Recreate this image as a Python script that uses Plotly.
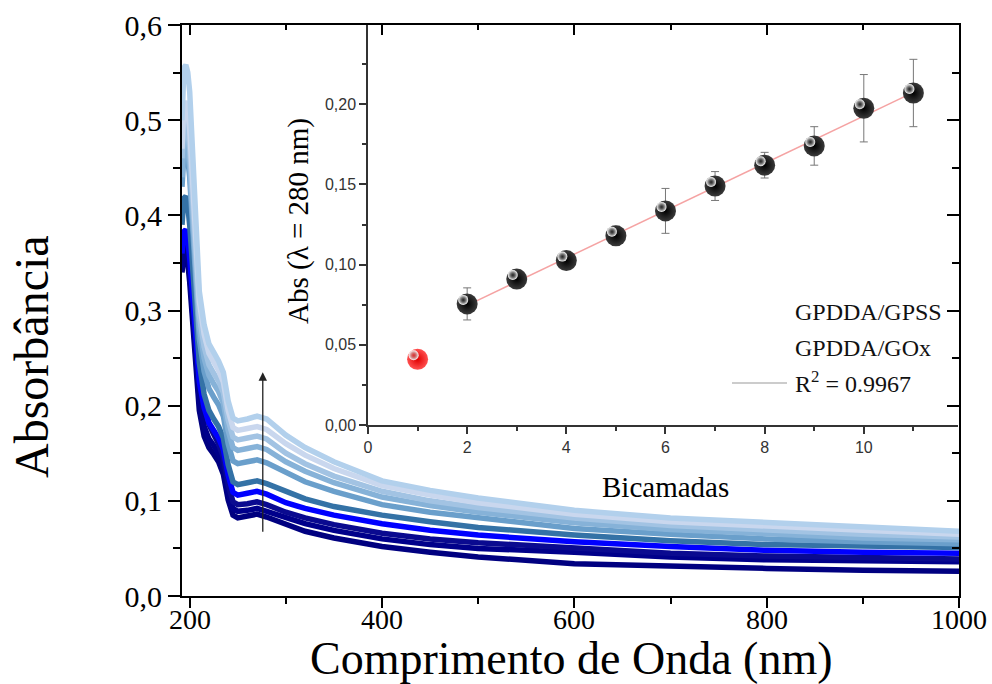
import numpy as np
import plotly.graph_objects as go

# ---------------- data ----------------
wl = [192, 194, 196, 198, 200, 203, 206, 210, 215, 220, 225, 230, 235, 240, 245, 250,
      260, 270, 280, 290, 300, 320, 350, 400, 450, 500, 600, 700, 800, 900, 1000]

abs_1 = [0.34, 0.358, 0.36, 0.35, 0.33, 0.29, 0.245, 0.195, 0.168, 0.156, 0.149, 0.141, 0.128, 0.101, 0.085, 0.082,
         0.084, 0.086, 0.083, 0.079, 0.075, 0.068, 0.061, 0.052, 0.046, 0.041, 0.034, 0.031, 0.029, 0.027, 0.026]
abs_2 = [0.345, 0.368, 0.37, 0.36, 0.34, 0.30, 0.255, 0.205, 0.178, 0.165, 0.158, 0.150, 0.137, 0.109, 0.092, 0.089,
         0.090, 0.092, 0.089, 0.086, 0.082, 0.076, 0.069, 0.060, 0.054, 0.050, 0.046, 0.041, 0.038, 0.037, 0.036]
abs_3 = [0.47, 0.50, 0.505, 0.49, 0.46, 0.40, 0.33, 0.255, 0.205, 0.180, 0.170, 0.160, 0.146, 0.117, 0.099, 0.096,
         0.097, 0.099, 0.096, 0.092, 0.088, 0.082, 0.075, 0.066, 0.060, 0.056, 0.050, 0.045, 0.042, 0.040, 0.039]
abs_4 = [0.36, 0.383, 0.385, 0.375, 0.355, 0.32, 0.275, 0.225, 0.198, 0.182, 0.174, 0.166, 0.154, 0.127, 0.109, 0.106,
         0.108, 0.110, 0.107, 0.103, 0.098, 0.092, 0.085, 0.076, 0.069, 0.064, 0.057, 0.052, 0.048, 0.046, 0.045]
abs_5 = [0.39, 0.418, 0.42, 0.41, 0.39, 0.35, 0.30, 0.245, 0.212, 0.195, 0.186, 0.178, 0.166, 0.138, 0.120, 0.117,
         0.119, 0.121, 0.118, 0.114, 0.109, 0.102, 0.094, 0.085, 0.078, 0.072, 0.064, 0.058, 0.054, 0.052, 0.051]
abs_6 = [0.43, 0.465, 0.47, 0.46, 0.44, 0.39, 0.33, 0.27, 0.236, 0.218, 0.209, 0.201, 0.189, 0.160, 0.142, 0.139,
         0.141, 0.143, 0.140, 0.135, 0.129, 0.120, 0.110, 0.096, 0.088, 0.082, 0.071, 0.065, 0.060, 0.057, 0.055]
abs_7 = [0.44, 0.475, 0.48, 0.47, 0.45, 0.40, 0.345, 0.283, 0.250, 0.232, 0.223, 0.215, 0.203, 0.174, 0.156, 0.153,
         0.155, 0.157, 0.154, 0.148, 0.141, 0.131, 0.119, 0.104, 0.095, 0.088, 0.077, 0.070, 0.065, 0.061, 0.059]
abs_8 = [0.46, 0.495, 0.50, 0.49, 0.47, 0.42, 0.36, 0.295, 0.262, 0.243, 0.234, 0.226, 0.214, 0.185, 0.167, 0.164,
         0.166, 0.168, 0.165, 0.158, 0.150, 0.139, 0.126, 0.110, 0.100, 0.093, 0.082, 0.074, 0.069, 0.065, 0.062]
abs_9 = [0.47, 0.515, 0.52, 0.51, 0.49, 0.44, 0.38, 0.31, 0.275, 0.255, 0.246, 0.237, 0.225, 0.195, 0.177, 0.174,
         0.176, 0.178, 0.175, 0.168, 0.160, 0.148, 0.134, 0.116, 0.106, 0.098, 0.086, 0.078, 0.073, 0.069, 0.065]
abs_10 = [0.50, 0.555, 0.558, 0.55, 0.53, 0.47, 0.40, 0.32, 0.285, 0.265, 0.256, 0.247, 0.235, 0.205, 0.187, 0.184,
          0.186, 0.189, 0.186, 0.178, 0.169, 0.156, 0.141, 0.121, 0.111, 0.103, 0.090, 0.082, 0.077, 0.072, 0.068]

spectra_colors = ["#000080", "#00008b", "#0a0a90", "#0000ff", "#3472a6",
                  "#6a9fcb", "#86b2d8", "#a2c3e3", "#c9d7ee", "#b2d0ec"]

bilayers = [1, 2, 3, 4, 5, 6, 7, 8, 9, 10, 11]
abs280 = [0.041, 0.0755, 0.091, 0.1025, 0.118, 0.1335, 0.149, 0.162, 0.174, 0.1975, 0.207]
abs280_err = [0.003, 0.010, 0.003, 0.003, 0.006, 0.014, 0.009, 0.008, 0.012, 0.021, 0.021]

main_xticks = [200, 400, 600, 800, 1000]
main_xtick_text = ["200", "400", "600", "800", "1000"]
main_xminor = [300, 500, 700, 900]
main_yticks = [0.0, 0.1, 0.2, 0.3, 0.4, 0.5, 0.6]
main_ytick_text = ["0,0", "0,1", "0,2", "0,3", "0,4", "0,5", "0,6"]
main_yminor = [0.05, 0.15, 0.25, 0.35, 0.45, 0.55]
inset_xticks = [0, 2, 4, 6, 8, 10]
inset_xtick_text = ["0", "2", "4", "6", "8", "10"]
inset_xminor = [1, 3, 5, 7, 9, 11]
inset_yticks = [0.0, 0.05, 0.10, 0.15, 0.20]
inset_ytick_text = ["0,00", "0,05", "0,10", "0,15", "0,20"]
inset_yminor = [0.025, 0.075, 0.125, 0.175, 0.225]

# ---------------- figure ----------------
W, H = 992, 684
def px_x(p):
    return p / W
def px_y(p):
    return 1 - p / H

SERIF = "Liberation Serif, Times New Roman, serif"
SANS = "Liberation Sans, Arial, sans-serif"

spectra = [abs_1, abs_2, abs_3, abs_4, abs_5, abs_6, abs_7, abs_8, abs_9, abs_10]

fig = go.Figure()
for i, (s, c) in enumerate(zip(spectra, spectra_colors)):
    fig.add_trace(go.Scatter(x=wl, y=s, mode="lines", line=dict(color=c, width=5.5),
                             xaxis="x3" if i == len(spectra) - 1 else "x",
                             yaxis="y3" if i == len(spectra) - 1 else "y",
                             showlegend=False, hoverinfo="skip"))

# inset: fit line
bx = np.array(bilayers[1:], dtype=float)
by = np.array(abs280[1:], dtype=float)
coef = np.polyfit(bx, by, 1)
fit_x = [bx.min(), bx.max()]
fit_y = list(np.polyval(coef, fit_x))
fig.add_trace(go.Scatter(x=fit_x, y=fit_y, mode="lines", line=dict(color="#f5a3a3", width=1.5),
                         xaxis="x2", yaxis="y2", showlegend=False, hoverinfo="skip"))

marker_colors = ["#e00000"] + ["#000000"] * (len(bilayers) - 1)
grad_colors = ["#ff5050"] + ["#3a3a3a"] * (len(bilayers) - 1)
fig.add_trace(go.Scatter(
    x=bilayers, y=abs280, mode="markers",
    error_y=dict(type="data", array=abs280_err, color="#777777", thickness=1, width=4),
    marker=dict(size=21, color=grad_colors, gradient=dict(type="radial", color=marker_colors),
                line=dict(width=0)),
    xaxis="x2", yaxis="y2", showlegend=False, hoverinfo="skip"))
# specular highlight
hx = [b - 0.08 for b in bilayers]
hy = [a + 0.0025 for a in abs280]
fig.add_trace(go.Scatter(
    x=hx, y=hy, mode="markers",
    marker=dict(size=10, color="#ffffff", gradient=dict(type="radial", color="rgba(120,120,120,0.1)"),
                line=dict(width=0)),
    xaxis="x2", yaxis="y2", showlegend=False, hoverinfo="skip"))

main_dom_x = [px_x(182), px_x(959)]
main_dom_y = [px_y(596), px_y(25)]
ins_dom_x = [px_x(368), px_x(958)]
ins_dom_y = [px_y(425), px_y(25)]

xr = [192, 1000]
yr = [0, 0.6]

fig.update_layout(
    width=W, height=H,
    margin=dict(l=0, r=0, t=0, b=0, pad=0, autoexpand=False),
    paper_bgcolor="white", plot_bgcolor="rgba(0,0,0,0)",
    showlegend=False,
    xaxis=dict(domain=main_dom_x, range=xr, anchor="y", showline=True, linecolor="black", linewidth=2,
               tickmode="array", tickvals=main_xticks, showticklabels=False, automargin=False,
               ticks="outside", ticklen=10, tickwidth=2, tickcolor="black",
               minor=dict(tickmode="array", tickvals=main_xminor, ticks="outside", ticklen=6,
                          tickwidth=2, tickcolor="black"),
               showgrid=False, zeroline=False),
    yaxis=dict(domain=main_dom_y, range=yr, anchor="x", showline=True, linecolor="black", linewidth=2,
               tickmode="array", tickvals=main_yticks, ticktext=main_ytick_text, automargin=False,
               ticks="outside", ticklen=12, tickwidth=2, tickcolor="black",
               minor=dict(tickmode="array", tickvals=main_yminor, ticks="outside", ticklen=7,
                          tickwidth=2, tickcolor="black"),
               tickfont=dict(family=SERIF, size=30, color="black"), showgrid=False, zeroline=False),
    xaxis3=dict(domain=main_dom_x, range=xr, anchor="y3", overlaying="x", side="top", automargin=False,
                showline=True, linecolor="black", linewidth=2,
                tickmode="array", tickvals=main_xticks, ticks="inside", ticklen=10, tickwidth=2,
                tickcolor="black", showticklabels=False,
                minor=dict(tickmode="array", tickvals=main_xminor, ticks="inside", ticklen=5,
                           tickwidth=2, tickcolor="black"),
                showgrid=False, zeroline=False),
    yaxis3=dict(domain=main_dom_y, range=yr, anchor="x3", overlaying="y", side="right", automargin=False,
                showline=True, linecolor="black", linewidth=2,
                tickmode="array", tickvals=main_yticks, ticks="inside", ticklen=12, tickwidth=2,
                tickcolor="black", showticklabels=False,
                minor=dict(tickmode="array", tickvals=main_yminor, ticks="inside", ticklen=7,
                           tickwidth=2, tickcolor="black"),
                showgrid=False, zeroline=False),
    xaxis2=dict(domain=ins_dom_x, range=[0, 11.9], anchor="y2", showline=True, linecolor="#333333",
                linewidth=1.5, tickmode="array", tickvals=inset_xticks, ticktext=inset_xtick_text,
                automargin=False,
                ticks="outside", ticklen=7, tickwidth=1.5, tickcolor="#333333",
                minor=dict(tickmode="array", tickvals=inset_xminor, ticks="outside", ticklen=4,
                           tickwidth=1.5, tickcolor="#333333"),
                tickfont=dict(family=SANS, size=16, color="#333333"), showgrid=False, zeroline=False),
    yaxis2=dict(domain=ins_dom_y, range=[0, 0.2494], anchor="x2", showline=True, linecolor="#333333",
                linewidth=1.5, tickmode="array", tickvals=inset_yticks, ticktext=inset_ytick_text,
                automargin=False,
                ticks="outside", ticklen=7, tickwidth=1.5, tickcolor="#333333",
                minor=dict(tickmode="array", tickvals=inset_yminor, ticks="outside", ticklen=4,
                           tickwidth=1.5, tickcolor="#333333"),
                tickfont=dict(family=SANS, size=16, color="#333333"), showgrid=False, zeroline=False),
)

annotations = [
    dict(text="Comprimento de Onda (nm)", x=px_x(571), y=px_y(658), xref="paper", yref="paper",
         showarrow=False, font=dict(family=SERIF, size=46, color="black"), xanchor="center", yanchor="middle"),
    dict(text="Absorbância", x=px_x(32), y=px_y(357), xref="paper", yref="paper", textangle=-90,
         showarrow=False, font=dict(family=SERIF, size=48, color="black"), xanchor="center", yanchor="middle"),
    dict(text="Abs (λ = 280 nm)", x=px_x(298), y=px_y(221), xref="paper", yref="paper", textangle=-90,
         showarrow=False, font=dict(family=SERIF, size=29, color="black"), xanchor="center", yanchor="middle"),
    dict(text="Bicamadas", x=px_x(665), y=px_y(487), xref="paper", yref="paper",
         showarrow=False, font=dict(family=SERIF, size=29, color="black"), xanchor="center", yanchor="middle"),
    dict(text="GPDDA/GPSS", x=px_x(793), y=px_y(312), xref="paper", yref="paper",
         showarrow=False, font=dict(family=SERIF, size=24, color="#111111"), xanchor="left", yanchor="middle"),
    dict(text="GPDDA/GOx", x=px_x(793), y=px_y(348), xref="paper", yref="paper",
         showarrow=False, font=dict(family=SERIF, size=24, color="#111111"), xanchor="left", yanchor="middle"),
    dict(text="R<sup>2</sup> = 0.9967", x=px_x(793), y=px_y(382), xref="paper", yref="paper",
         showarrow=False, font=dict(family=SERIF, size=24, color="#111111"), xanchor="left", yanchor="middle"),
    # arrow showing increasing bilayers
    dict(text="", x=276, y=0.235, ax=276, ay=0.066, xref="x", yref="y", axref="x", ayref="y",
         showarrow=True, arrowhead=2, arrowsize=1.3, arrowwidth=1.3, arrowcolor="#222222"),
]
# main x tick labels placed just under the axis
for v, t in zip(main_xticks, main_xtick_text):
    annotations.append(dict(text=t, x=v, y=px_y(619), xref="x", yref="paper", showarrow=False,
                            font=dict(family=SERIF, size=28, color="black"),
                            xanchor="center", yanchor="middle"))
fig.update_layout(annotations=annotations)

fig.add_shape(type="line", xref="paper", yref="paper", x0=px_x(732), x1=px_x(787),
              y0=px_y(383), y1=px_y(383), line=dict(color="#bbbbbb", width=1.5))

fig.write_html("out.html")
